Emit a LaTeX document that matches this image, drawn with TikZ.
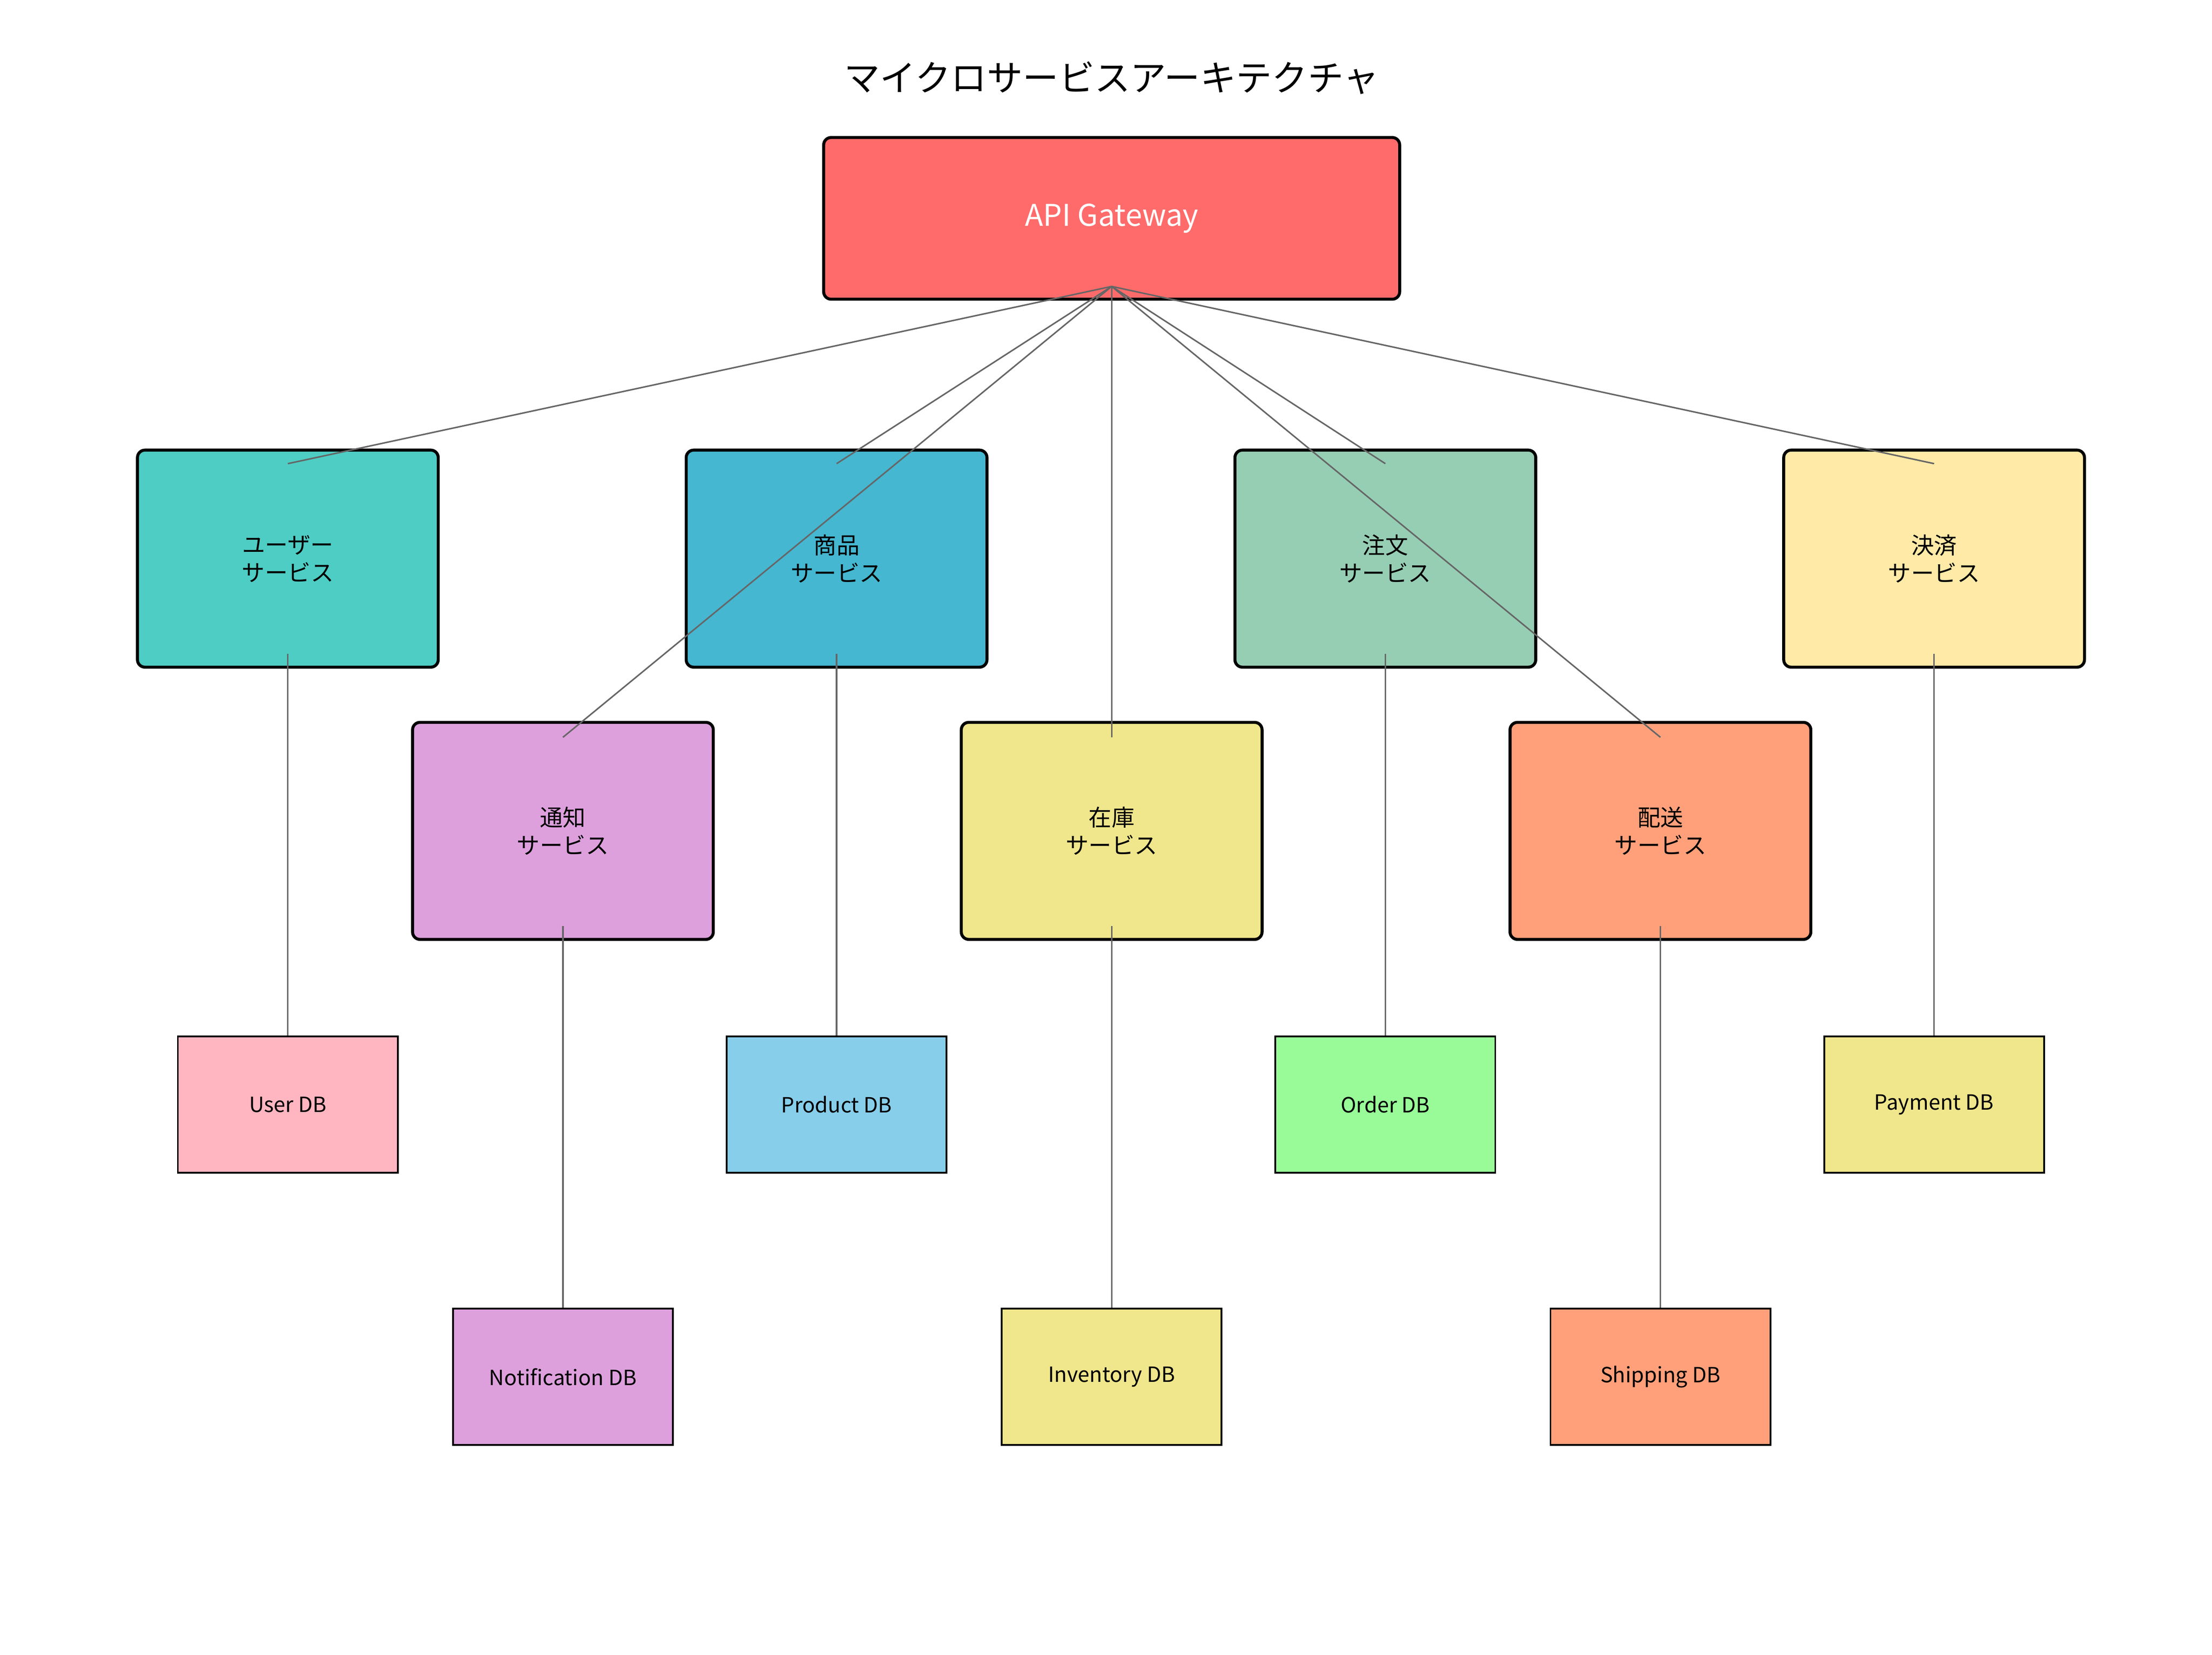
\documentclass[tikz,border=0pt]{standalone}
\usepackage{fontspec}
\setmainfont{Noto Sans CJK JP}
\usetikzlibrary{calc}
\definecolor{linegray}{HTML}{666666}
\tikzset{
  svcbox/.style={draw=black, line width=0.6pt, rounded corners=1.5pt, minimum width=212\pgfxunit, minimum height=153\pgfxunit, inner sep=0pt, align=center, font=\fontsize{4.6}{5.6}\selectfont},
  dbbox/.style={draw=black, line width=0.35pt, minimum width=155\pgfxunit, minimum height=96\pgfxunit, inner sep=0pt, font=\fontsize{4.2}{5}\selectfont},
  link/.style={draw=linegray, line width=0.3pt}
}
\begin{document}
\begin{tikzpicture}[x=0.01cm, y=-0.01cm]
  \useasboundingbox (0,0) rectangle (1560,1167);
  \pgfmathsetmacro\pgfxunit{0.01cm}

  % Title
  \node[font=\fontsize{7.2}{8}\selectfont] (title) at (784,55) {マイクロサービスアーキテクチャ};

  % Gateway
  \node[draw=black, line width=0.6pt, rounded corners=1.5pt, fill={rgb,255:red,255;green,107;blue,107}, minimum width=4.06cm, minimum height=1.14cm, text=white, font=\fontsize{6}{7}\selectfont] (gw) at (784,154) {API Gateway};
  \coordinate (gwout) at (784,202);

  % Services
  \node[svcbox, minimum width=2.12cm, minimum height=1.53cm, fill={rgb,255:red,78;green,205;blue,196}] (user) at (203,394) {ユーザー\\サービス};
  \node[svcbox, minimum width=2.12cm, minimum height=1.53cm, fill={rgb,255:red,69;green,183;blue,209}] (product) at (590,394) {商品\\サービス};
  \node[svcbox, minimum width=2.12cm, minimum height=1.53cm, fill={rgb,255:red,150;green,206;blue,180}] (order) at (977,394) {注文\\サービス};
  \node[svcbox, minimum width=2.12cm, minimum height=1.53cm, fill={rgb,255:red,255;green,234;blue,167}] (payment) at (1364,394) {決済\\サービス};
  \node[svcbox, minimum width=2.12cm, minimum height=1.53cm, fill={rgb,255:red,221;green,160;blue,221}] (notify) at (397,586) {通知\\サービス};
  \node[svcbox, minimum width=2.12cm, minimum height=1.53cm, fill={rgb,255:red,240;green,230;blue,140}] (stock) at (784,586) {在庫\\サービス};
  \node[svcbox, minimum width=2.12cm, minimum height=1.53cm, fill={rgb,255:red,255;green,160;blue,122}] (ship) at (1171,586) {配送\\サービス};

  % Databases
  \node[dbbox, minimum width=1.55cm, minimum height=0.96cm, fill={rgb,255:red,255;green,182;blue,193}] (userdb) at (203,779) {User DB};
  \node[dbbox, minimum width=1.55cm, minimum height=0.96cm, fill={rgb,255:red,135;green,206;blue,235}] (productdb) at (590,779) {Product DB};
  \node[dbbox, minimum width=1.55cm, minimum height=0.96cm, fill={rgb,255:red,152;green,251;blue,152}] (orderdb) at (977,779) {Order DB};
  \node[dbbox, minimum width=1.55cm, minimum height=0.96cm, fill={rgb,255:red,240;green,230;blue,140}] (paymentdb) at (1364,779) {Payment DB};
  \node[dbbox, minimum width=1.55cm, minimum height=0.96cm, fill={rgb,255:red,221;green,160;blue,221}] (notifydb) at (397,971) {Notification DB};
  \node[dbbox, minimum width=1.55cm, minimum height=0.96cm, fill={rgb,255:red,240;green,230;blue,140}] (stockdb) at (784,971) {Inventory DB};
  \node[dbbox, minimum width=1.55cm, minimum height=0.96cm, fill={rgb,255:red,255;green,160;blue,122}] (shipdb) at (1171,971) {Shipping DB};

  % Gateway to services
  \foreach \svc in {user,product,order,payment}
    \draw[link] (gwout) -- ($(\svc.center)+(0,-67)$);
  \foreach \svc in {notify,stock,ship}
    \draw[link] (gwout) -- ($(\svc.center)+(0,-66)$);

  % Services to databases
  \foreach \svc in {user,product,order,payment,notify,stock,ship}
    \draw[link] ($(\svc.center)+(0,67)$) -- (\svc db.north);

\end{tikzpicture}
\end{document}
